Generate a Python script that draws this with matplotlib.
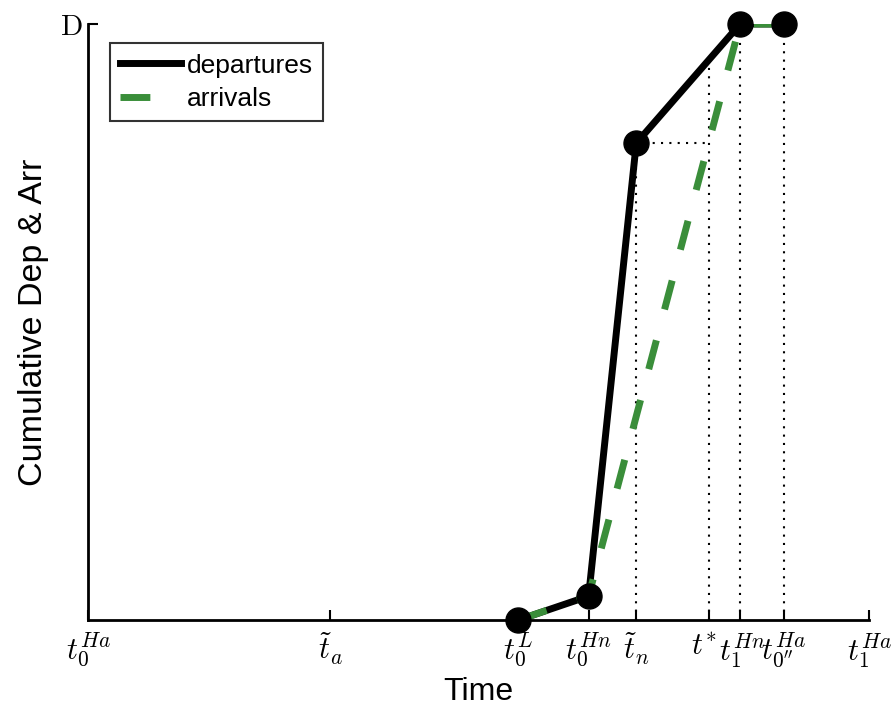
import matplotlib
matplotlib.use("Agg")
import matplotlib.pyplot as plt
import matplotlib.transforms as mtransforms

plt.rcParams['font.family'] = ['Liberation Sans', 'DejaVu Sans']
plt.rcParams['mathtext.fontset'] = 'cm'

# Time positions (arbitrary units)
tick_pos = [0.0, 31.0, 55.1, 64.1, 70.2, 79.5, 83.5, 89.1, 100.0]
tick_labels = [r'$t_0^{Ha}$', r'$\tilde{t}_a$', r'$t_0^{L}$', r'$t_0^{Hn}$',
               r'$\tilde{t}_n$', r'$t^{*}$', r'$t_1^{Hn}$', r'$t_{0^{\prime\prime}}^{Ha}$',
               r'$t_1^{Ha}$']

# Cumulative departures (fraction of D)
dep_t = [55.1, 64.1, 70.2, 83.5, 89.1]
dep_y = [0.0, 0.04, 0.80, 1.0, 1.0]

# Cumulative arrivals
arr_t = [55.1, 64.1, 83.5, 89.1]
arr_y = [0.0, 0.04, 1.0, 1.0]

t_n, t_star, t1Hn, t0pp = 70.2, 79.5, 83.5, 89.1

fig = plt.figure(figsize=(8.93, 7.17), dpi=100)
ax = fig.add_axes([88/893, 1-620/717, 781/893, 596/717])

# guide lines
dot = dict(color='black', linestyle=(0, (1, 3)), linewidth=1.5, zorder=1)
ax.plot([t_n, t_n], [0, 0.80], **dot)
ax.plot([t_n, t_star], [0.80, 0.80], **dot)
y_star = 0.80 + (t_star - t_n) / (t1Hn - t_n) * 0.20
ax.plot([t_star, t_star], [0, y_star], **dot)
ax.plot([t1Hn, t1Hn], [0, 1.0], **dot)
ax.plot([t0pp, t0pp], [0, 1.0], **dot)

ax.plot(dep_t, dep_y, color='black', linewidth=5, label='departures', zorder=3)
ax.plot(arr_t, arr_y, color='#3a8e3a', linewidth=5, linestyle=(0, (4.3, 4.6)),
        label='arrivals', zorder=4)
ax.plot(dep_t, dep_y, linestyle='none', marker='o', markersize=18,
        color='black', zorder=5, clip_on=False)

ax.set_xlim(0, 100)
ax.set_ylim(0, 1.0)
ax.set_xticks(tick_pos)
ax.set_xticklabels(tick_labels, fontsize=22)
ax.set_yticks([1.0])
ax.set_yticklabels([r'$\mathrm{D}$'], fontsize=21)
ax.tick_params(direction='in', length=7, width=1.5, pad=8)
ax.tick_params(axis='y', pad=4)
for s in ['top', 'right']:
    ax.spines[s].set_visible(False)
for s in ['left', 'bottom']:
    ax.spines[s].set_linewidth(2)

# nudge the crowded labels apart a little
labels = ax.get_xticklabels()
shifts = {5: -5, 6: 2}
for i, dx in shifts.items():
    off = mtransforms.ScaledTranslation(dx / 100, 0, fig.dpi_scale_trans)
    labels[i].set_transform(labels[i].get_transform() + off)

ax.set_xlabel('Time', fontsize=23, labelpad=5)
ax.set_ylabel('Cumulative Dep & Arr', fontsize=24.5, labelpad=8)

leg = ax.legend(loc='upper left', bbox_to_anchor=(0.028, 0.968), borderaxespad=0,
                fontsize=19, fancybox=False, frameon=True, handlelength=2.3,
                handletextpad=0.2, borderpad=0.4, labelspacing=0.35)
leg.get_frame().set_edgecolor('black')
leg.get_frame().set_linewidth(1.5)

fig.savefig('out.png', dpi=100)
